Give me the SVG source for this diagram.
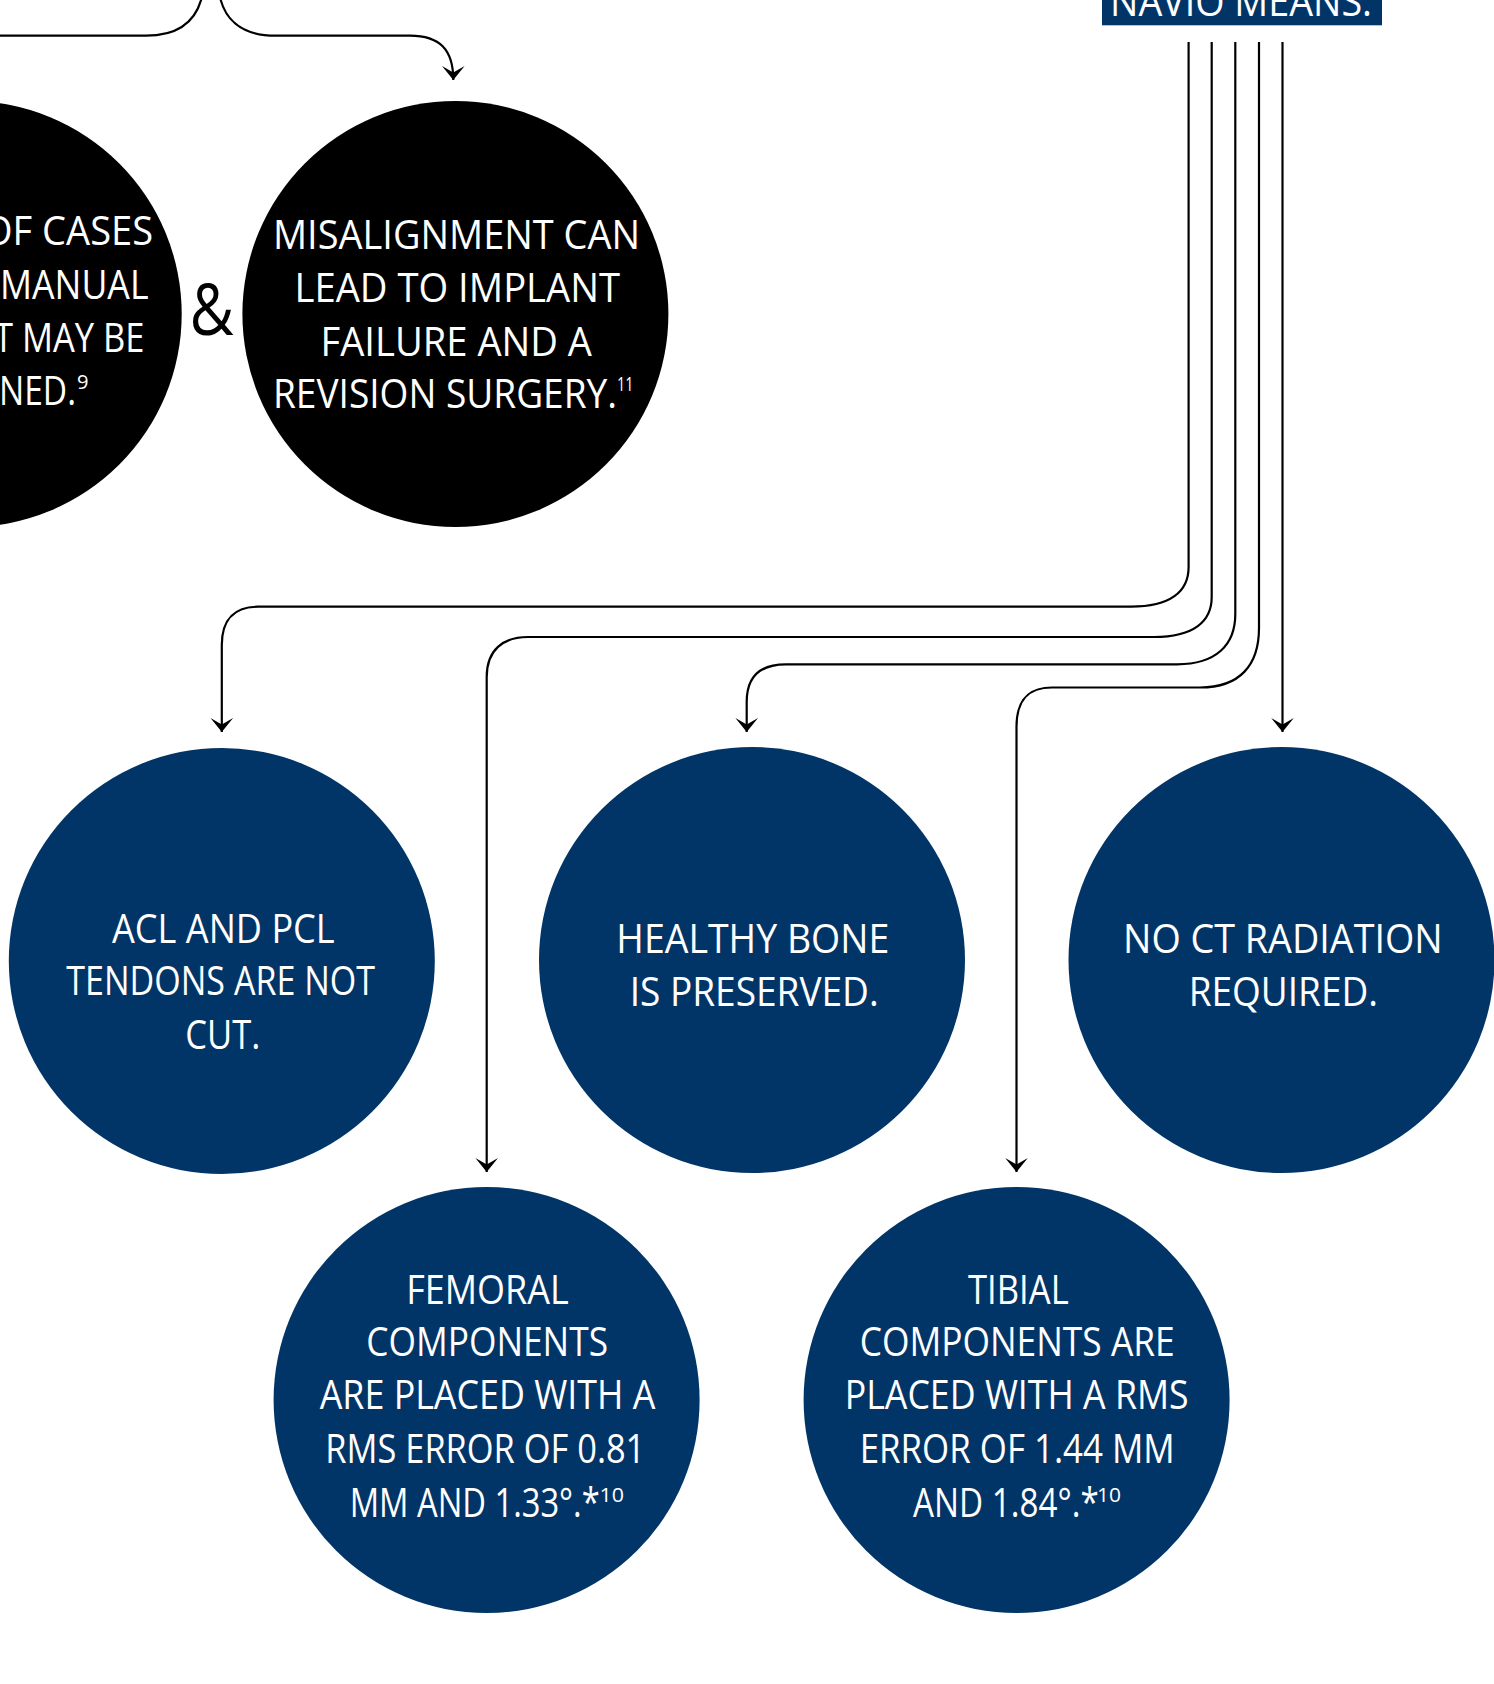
<svg xmlns="http://www.w3.org/2000/svg" width="1494" height="1684" viewBox="0 0 1494 1684">
<defs>
<style>
.navy{fill:#023567}
.dark{fill:#000}
.lbl{font-family:"Open Sans","Noto Sans","Liberation Sans",sans-serif;font-size:40px;fill:#fff}
.sup{font-size:20px}
.wire{fill:none;stroke:#000;stroke-width:2.2}
</style>
<marker id="head" markerUnits="userSpaceOnUse" viewBox="-16 -13 18 26" markerWidth="18" markerHeight="26" refX="0" refY="0" orient="auto">
<path d="M0,0 L-14,-11.3 L-7.5,0 L-14,11.3 Z" fill="#000"/>
</marker>
</defs>
<rect width="1494" height="1684" fill="#fff"/>

<!-- connectors -->
<g id="connectors" class="wire">
<path d="M-5,35.7 H146 C180,35.7 198,20 203,-8"/>
<path d="M219,-8 C223,18 240,35.7 276,35.7 H410 C440,35.7 453.3,50 453.3,80" marker-end="url(#head)"/>
<path d="M1188.6,42 V567 C1188.6,592 1170,606.7 1131,606.7 H258 C236,606.7 221.8,618 221.8,645 V732" marker-end="url(#head)"/>
<path d="M1211.7,42 V597 C1211.7,622 1193,637 1154,637 H528 C503,637 486.7,650 486.7,677 V1172" marker-end="url(#head)"/>
<path d="M1235.3,42 V614 C1235.3,645 1216,664.3 1177,664.3 H786 C761,664.3 746.7,676 746.7,702 V732" marker-end="url(#head)"/>
<path d="M1259,42 V628 C1259,665 1240,687.5 1200,687.5 H1052 C1028,687.5 1016.5,700 1016.5,727 V1172" marker-end="url(#head)"/>
<path d="M1282.5,42 V732" marker-end="url(#head)"/>
</g>

<!-- header -->
<g id="navio-means">
<rect class="navy" x="1102" y="-2" width="280" height="27.3"/>
<text class="lbl" x="1110" y="16" textLength="262" lengthAdjust="spacingAndGlyphs">NAVIO MEANS:</text>
</g>

<!-- black circles -->
<g id="manual-misaligned">
<circle class="dark" cx="-31.3" cy="314" r="213"/>
<text class="lbl" x="-17" y="245" textLength="170" lengthAdjust="spacingAndGlyphs">OF CASES</text>
<text class="lbl" x="0" y="299.3" textLength="148.5" lengthAdjust="spacingAndGlyphs">MANUAL</text>
<text class="lbl" x="-6" y="351.7" textLength="150.5" lengthAdjust="spacingAndGlyphs">T MAY BE</text>
<text class="lbl" x="-1" y="405" textLength="77" lengthAdjust="spacingAndGlyphs">NED.</text>
<text class="lbl sup" x="77" y="389" textLength="11.5" lengthAdjust="spacingAndGlyphs">9</text>
</g>

<g id="ampersand">
<text x="211.7" y="335" font-family="'Open Sans','Noto Sans',sans-serif" font-size="71" text-anchor="middle" textLength="44" lengthAdjust="spacingAndGlyphs" fill="#000">&amp;</text>
</g>

<g id="implant-failure">
<circle class="dark" cx="455.4" cy="314" r="213"/>
<text class="lbl" x="273" y="249" textLength="367" lengthAdjust="spacingAndGlyphs">MISALIGNMENT CAN</text>
<text class="lbl" x="294.5" y="302.3" textLength="325.5" lengthAdjust="spacingAndGlyphs">LEAD TO IMPLANT</text>
<text class="lbl" x="320.5" y="355.6" textLength="271.5" lengthAdjust="spacingAndGlyphs">FAILURE AND A</text>
<text class="lbl" x="273" y="408" textLength="344" lengthAdjust="spacingAndGlyphs">REVISION SURGERY.</text>
<text class="lbl sup" x="617" y="391" textLength="16.5" lengthAdjust="spacingAndGlyphs">11</text>
</g>

<!-- navy circles -->
<g id="ligaments">
<circle class="navy" cx="221.8" cy="961" r="213"/>
<text class="lbl" x="112" y="942.7" textLength="222.7" lengthAdjust="spacingAndGlyphs">ACL AND PCL</text>
<text class="lbl" x="66.3" y="995" textLength="308.7" lengthAdjust="spacingAndGlyphs">TENDONS ARE NOT</text>
<text class="lbl" x="185.3" y="1049.3" textLength="75" lengthAdjust="spacingAndGlyphs">CUT.</text>
</g>

<g id="bone">
<circle class="navy" cx="752" cy="960" r="213"/>
<text class="lbl" x="616.3" y="952.7" textLength="273" lengthAdjust="spacingAndGlyphs">HEALTHY BONE</text>
<text class="lbl" x="629.7" y="1006" textLength="249" lengthAdjust="spacingAndGlyphs">IS PRESERVED.</text>
</g>

<g id="radiation">
<circle class="navy" cx="1281.5" cy="960" r="213"/>
<text class="lbl" x="1123" y="952.7" textLength="319.7" lengthAdjust="spacingAndGlyphs">NO CT RADIATION</text>
<text class="lbl" x="1188.7" y="1006" textLength="189.3" lengthAdjust="spacingAndGlyphs">REQUIRED.</text>
</g>

<g id="femoral">
<circle class="navy" cx="486.6" cy="1400" r="213"/>
<text class="lbl" x="406.3" y="1304" textLength="162.4" lengthAdjust="spacingAndGlyphs">FEMORAL</text>
<text class="lbl" x="366.3" y="1356" textLength="241.7" lengthAdjust="spacingAndGlyphs">COMPONENTS</text>
<text class="lbl" x="319.7" y="1409.3" textLength="335.7" lengthAdjust="spacingAndGlyphs">ARE PLACED WITH A</text>
<text class="lbl" x="325.3" y="1463.3" textLength="320" lengthAdjust="spacingAndGlyphs">RMS ERROR OF 0.81</text>
<text class="lbl" x="349.7" y="1516.7" textLength="250" lengthAdjust="spacingAndGlyphs">MM AND 1.33°.*</text>
<text class="lbl sup" x="599.5" y="1502" textLength="24.5" lengthAdjust="spacingAndGlyphs">10</text>
</g>

<g id="tibial">
<circle class="navy" cx="1016.6" cy="1400" r="213"/>
<text class="lbl" x="968" y="1304" textLength="100.7" lengthAdjust="spacingAndGlyphs">TIBIAL</text>
<text class="lbl" x="859.7" y="1356" textLength="315" lengthAdjust="spacingAndGlyphs">COMPONENTS ARE</text>
<text class="lbl" x="844.7" y="1409.3" textLength="344" lengthAdjust="spacingAndGlyphs">PLACED WITH A RMS</text>
<text class="lbl" x="859.7" y="1463.3" textLength="315" lengthAdjust="spacingAndGlyphs">ERROR OF 1.44 MM</text>
<text class="lbl" x="913" y="1516.7" textLength="185.7" lengthAdjust="spacingAndGlyphs">AND 1.84°.*</text>
<text class="lbl sup" x="1097" y="1502" textLength="24" lengthAdjust="spacingAndGlyphs">10</text>
</g>
</svg>
